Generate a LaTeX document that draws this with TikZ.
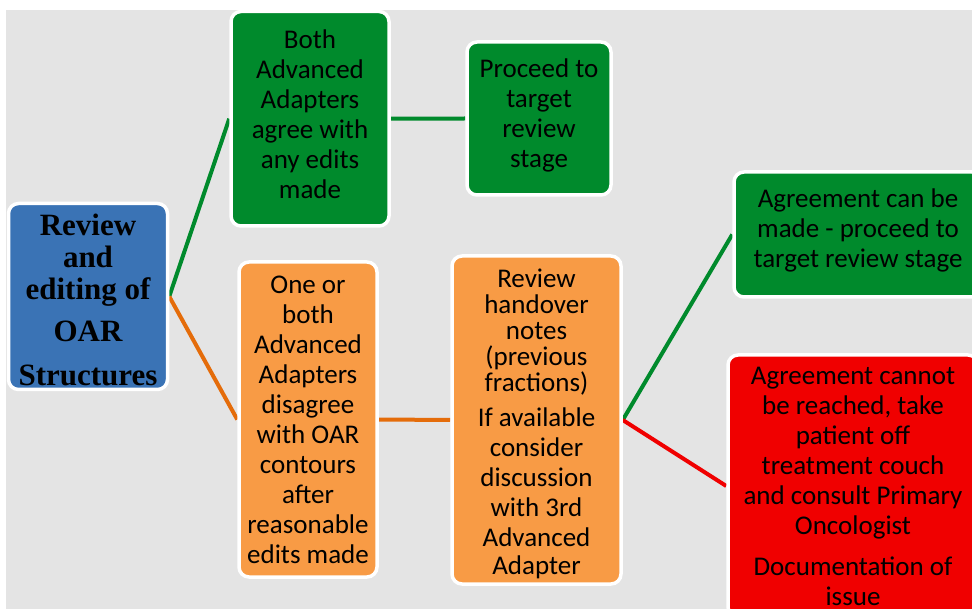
\documentclass[tikz,border=0pt]{standalone}
\usepackage{fontspec}
\setmainfont{Carlito}
\newfontfamily\titlefont{Liberation Serif}
\definecolor{cgreen}{RGB}{0,138,44}
\definecolor{corange}{RGB}{248,155,69}
\definecolor{corangeline}{RGB}{228,108,10}
\definecolor{cblue}{RGB}{58,115,181}
\definecolor{cred}{RGB}{240,0,0}
\definecolor{cbg}{RGB}{228,228,228}
\pgfdeclarelayer{back}
\pgfsetlayers{back,main}
\tikzset{
  box/.style={draw=white, line width=3.5pt, rounded corners=10pt, inner sep=0pt,
    align=center, font=\fontsize{27}{30}\selectfont, text=black},
  conn/.style={line width=4pt}
}
\begin{document}
\begin{tikzpicture}[x=1pt,y=-1pt]
\useasboundingbox (0,0) rectangle (972,609);
\clip (0,0) rectangle (972,609);
\node[box, fill=cblue, minimum width=159pt, minimum height=186pt,
  font=\titlefont\bfseries\fontsize{31}{32}\selectfont] (blue) at (88,296.5)
  {\mbox{}\\[-3pt]Review\\and\\editing of\\[10pt]OAR\\[12pt]Structures};
\node[box, fill=cgreen, minimum width=158pt, minimum height=214.5pt] (green1) at (310,118.75)
  {Both\\Advanced\\Adapters\\agree with\\any edits\\made\\[-20pt]\mbox{}};
\node[box, fill=cgreen, minimum width=144pt, minimum height=153pt] (green2) at (539,118.5)
  {Proceed to\\target\\review\\stage\\[-19pt]\mbox{}};
\node[box, fill=corange, minimum width=138pt, minimum height=315pt] (orange1) at (308,419.5)
  {One or\\both\\Advanced\\Adapters\\disagree\\with OAR\\contours\\after\\reasonable\\edits made};
\node[box, fill=corange, minimum width=169pt, minimum height=328pt] (orange2) at (536.5,420)
  {\mbox{}\\[-4pt]Review\\[-4pt]handover\\[-4pt]notes\\[-4pt](previous\\[-4pt]fractions)\\[5pt]If available\\consider\\discussion\\with 3rd\\Advanced\\[-2pt]Adapter};
\node[box, fill=cgreen, minimum width=248pt, minimum height=125pt] (green3) at (858,234.5)
  {Agreement can be\\made - proceed to\\target review stage\\[-17pt]\mbox{}};
\node[box, fill=cred, minimum width=250pt, minimum height=262pt] (red) at (853,486)
  {Agreement cannot\\be reached, take\\patient off\\treatment couch\\and consult Primary\\Oncologist\\[11pt]Documentation of\\issue};
\begin{pgfonlayer}{back}
\fill[white] (0,0) rectangle (972,609);
\fill[cbg] (6,10) rectangle (972,609);
\draw[conn, cgreen] (blue.east) -- (green1.west);
\draw[conn, corangeline] (blue.east) -- (orange1.west);
\draw[conn, cgreen] (green1.east) -- (green2.west);
\draw[conn, corangeline] (orange1.east) -- (orange2.west);
\draw[conn, cgreen] (orange2.east) -- (green3.west);
\draw[conn, cred] (orange2.east) -- (red.west);
\end{pgfonlayer}
\end{tikzpicture}
\end{document}
